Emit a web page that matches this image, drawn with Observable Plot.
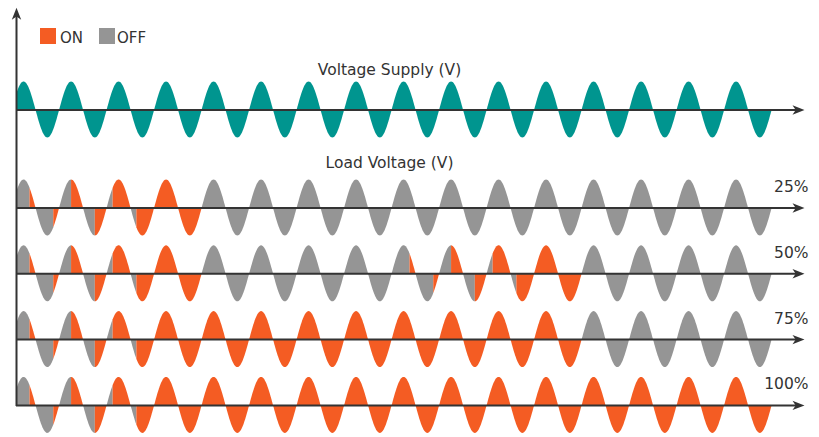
<!DOCTYPE html>
<html><head><meta charset="utf-8">
<script src="https://cdn.jsdelivr.net/npm/d3@7"></script>
<script src="https://cdn.jsdelivr.net/npm/@observablehq/plot@0.6"></script>
<style>
body{margin:0;background:#fff;}
#wrap{position:relative;width:819px;height:437px;font-family:"DejaVu Sans",Verdana,sans-serif;}
#legend span{position:absolute;}
.sw{width:16px;height:16px;top:28px;}
.lt{top:31px;font-size:15px;line-height:15px;color:#333;white-space:nowrap;}
</style></head><body>
<div id="wrap"><div id="chart"></div><div id="legend"></div></div>
<script>
// ---- data ----
const cycles = 16;
const supplyTitle = "Voltage Supply (V)";
const loadTitle = "Load Voltage (V)";
const rowLabels = ["25%", "50%", "75%", "100%"];
// ON (1) / OFF (0) state of each mains cycle for each load row
const rowPatterns = [
  "1111000000000000",
  "1111000011110000",
  "1111111111110000",
  "1111111111111111"
];
// firing point (fraction of the half-cycle that stays OFF) for the first half-cycles of each ON burst
const softStart = [0.75, 0.75, 0.5, 0.5, 0.25, 0.25, 0, 0];
const legendLabels = ["ON", "OFF"];
const colorOn = "#f45c23", colorOff = "#959595", colorSupply = "#00958f";
const axisColor = "#333333", textColor = "#333333";
// vertical position of each wave baseline (amplitude units below the supply wave)
const supplyLevel = 0;
const loadLevels = [3.5, 5.85, 8.2, 10.55];

// ---- layout helpers (pixel -> data units) ----
const x0px = 11.7, cyclePx = 47.5, ampPx = 28, supplyPx = 109.5;
const tx = px => (px - x0px) / cyclePx;
const ty = px => (supplyPx - px) / ampPx;
const tStart = tx(16);

// ---- build wave segments ----
const pts = [];
let segId = 0;
function addSeg(k, p0, p1, base, fill) {
  p0 = Math.max(p0, 2 * tStart - k);
  if (p1 - p0 <= 1e-6) return;
  const id = segId++;
  const n = Math.max(2, Math.ceil((p1 - p0) * 30));
  const sgn = k % 2 === 0 ? 1 : -1;
  for (let i = 0; i <= n; i++) {
    const p = p0 + (p1 - p0) * i / n;
    pts.push({t: (k + p) / 2, base, y: base + sgn * Math.sin(Math.PI * p), seg: id, fill});
  }
}
for (let k = 0; k < cycles * 2; k++) addSeg(k, 0, 1, -supplyLevel, colorSupply);
rowPatterns.forEach((pat, r) => {
  const base = -loadLevels[r];
  let pos = 0;
  for (let c = 0; c < cycles; c++) {
    const on = pat[c] === "1";
    pos = on ? pos + 1 : 0;
    for (let h = 0; h < 2; h++) {
      const k = 2 * c + h;
      let f = 1;
      if (on) { const idx = (pos - 1) * 2 + h; f = idx < softStart.length ? softStart[idx] : 0; }
      addSeg(k, 0, f, base, colorOff);
      addSeg(k, f, 1, base, colorOn);
    }
  }
});

const allLevels = [supplyLevel, ...loadLevels];
const arrowHead = {draw(ctx) { ctx.moveTo(0, -7); ctx.lineTo(4.7, 5); ctx.lineTo(0, 1.8); ctx.lineTo(-4.7, 5); ctx.closePath(); }};
const font = "DejaVu Sans, Verdana, sans-serif";

const chart = Plot.plot({
  width: 819, height: 437, margin: 0,
  style: {background: "transparent", fontFamily: font},
  x: {domain: [tx(0), tx(819)], axis: null},
  y: {domain: [ty(437), ty(0)], axis: null},
  color: {type: "identity"},
  marks: [
    Plot.areaY(pts, {x: "t", y1: "base", y2: "y", z: "seg", fill: "fill", curve: "linear"}),
    Plot.ruleY(allLevels, {y: d => -d, x1: tStart, x2: tx(797), stroke: axisColor, strokeWidth: 2}),
    Plot.ruleX([tStart], {y1: -loadLevels[loadLevels.length - 1] - 0.035, y2: ty(14), stroke: axisColor, strokeWidth: 2}),
    Plot.dot(allLevels, {x: tx(797), y: d => -d, symbol: arrowHead, fill: axisColor, stroke: null, rotate: 90}),
    Plot.dot([0], {x: tStart, y: ty(14.3), symbol: arrowHead, fill: axisColor, stroke: null}),
    Plot.text([supplyTitle], {x: tx(389), y: ty(74), text: d => d, lineAnchor: "bottom", fontSize: 15.5, fill: textColor}),
    Plot.text([loadTitle], {x: tx(389), y: ty(167), text: d => d, lineAnchor: "bottom", fontSize: 15.5, fill: textColor}),
    Plot.text(rowLabels, {x: tx(808), y: (d, i) => -loadLevels[i] + 16 / ampPx, text: d => d, textAnchor: "end", lineAnchor: "bottom", fontSize: 15.5, fill: textColor})
  ]
});
document.getElementById("chart").append(chart);

// legend
const lg = document.getElementById("legend");
const legendItems = [
  {label: legendLabels[0], color: colorOn, sw: 40, tx: 60},
  {label: legendLabels[1], color: colorOff, sw: 99, tx: 117}
];
legendItems.forEach(it => {
  const s = document.createElement("span"); s.className = "sw"; s.style.left = it.sw + "px"; s.style.background = it.color; lg.append(s);
  const t = document.createElement("span"); t.className = "lt"; t.style.left = it.tx + "px"; t.textContent = it.label; lg.append(t);
});
</script>
</body></html>
